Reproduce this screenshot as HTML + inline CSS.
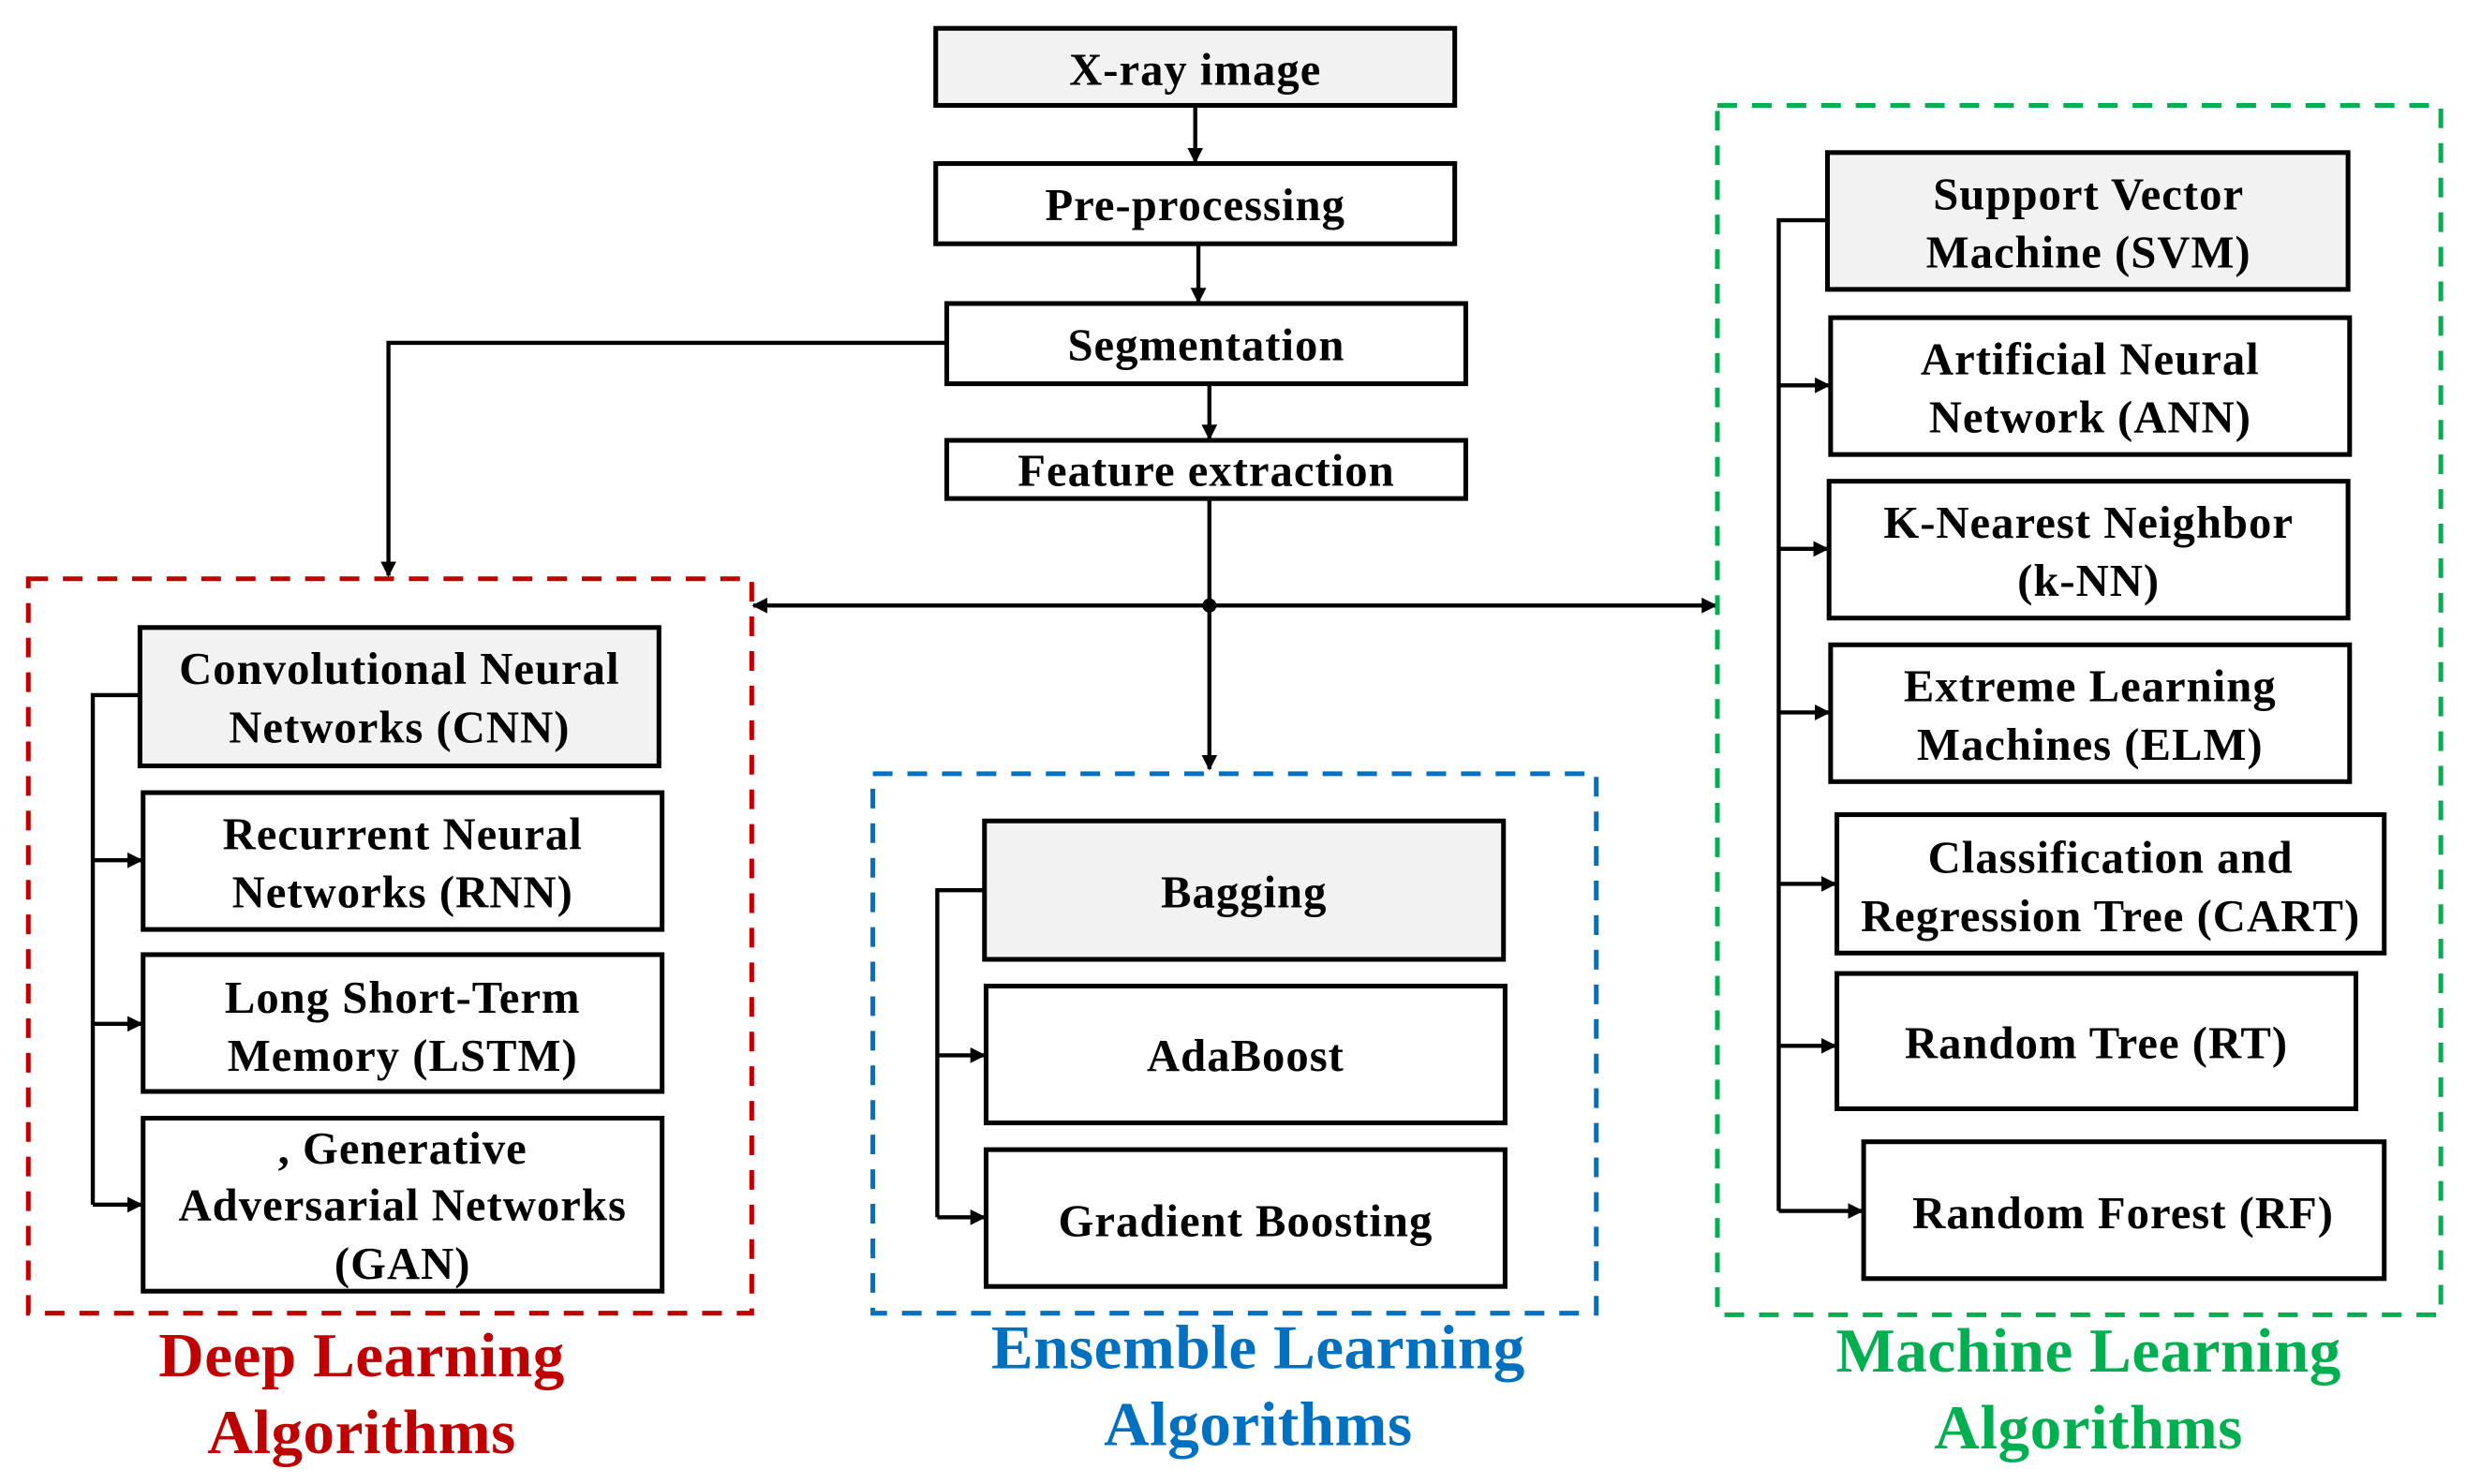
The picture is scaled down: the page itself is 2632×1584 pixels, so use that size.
<!DOCTYPE html>
<html><head><meta charset="utf-8"><style>
html,body{margin:0;padding:0;background:#fff;}
svg{display:block;}
text{font-family:"Liberation Serif",serif;font-weight:bold;text-anchor:middle;}
.b{fill:#fff;stroke:#000;stroke-width:3;}
.g{fill:#f2f2f2;stroke:#000;stroke-width:3;}
.l{stroke:#000;stroke-width:2.6;fill:none;}
.t{font-size:29px;fill:#000;letter-spacing:0.6px;}
.h{font-size:40px;letter-spacing:0.3px;}
</style></head><body>
<svg width="2632" height="1584" viewBox="0 0 1568 943.6" preserveAspectRatio="none">
<defs><marker id="a" markerWidth="10" markerHeight="10" refX="9" refY="5" orient="auto" markerUnits="userSpaceOnUse"><path d="M0,0 L10,5 L0,10 z" fill="#000"/></marker></defs>
<rect class="g" x="595" y="18" width="330" height="49"/><text class="t" x="760" y="54">X-ray image</text>
<rect class="b" x="595" y="104" width="330" height="51"/><text class="t" x="760" y="140">Pre-processing</text>
<rect class="b" x="602" y="193" width="330" height="51"/><text class="t" x="767" y="229">Segmentation</text>
<rect class="b" x="602" y="280" width="330" height="37"/><text class="t" x="767" y="309">Feature extraction</text>
<line class="l" x1="760" y1="67" x2="760" y2="103" marker-end="url(#a)"/>
<line class="l" x1="762" y1="155" x2="762" y2="192" marker-end="url(#a)"/>
<line class="l" x1="769" y1="244" x2="769" y2="279" marker-end="url(#a)"/>
<line class="l" x1="769" y1="317" x2="769" y2="385"/>
<line class="l" x1="769" y1="385" x2="769" y2="489" marker-end="url(#a)"/>
<circle cx="769" cy="385" r="4.5" fill="#000"/>
<line class="l" x1="769" y1="385" x2="1091" y2="385" marker-end="url(#a)"/>
<line class="l" x1="769" y1="385" x2="479" y2="385" marker-end="url(#a)"/>
<polyline class="l" points="602,218 247,218 247,366" marker-end="url(#a)"/>
<rect x="18" y="368" width="460" height="467" fill="none" stroke="#c00000" stroke-width="3" stroke-dasharray="12.5,9.5"/>
<rect x="555" y="492" width="460" height="343" fill="none" stroke="#0070c0" stroke-width="3" stroke-dasharray="12.5,9.5"/>
<rect x="1092" y="67" width="460" height="769" fill="none" stroke="#00b050" stroke-width="3" stroke-dasharray="12.5,9.5"/>
<rect class="g" x="89" y="399" width="330" height="88"/><text class="t" x="254" y="435">Convolutional Neural</text><text class="t" x="254" y="472">Networks (CNN)</text>
<rect class="b" x="91" y="504" width="330" height="87"/><text class="t" x="256" y="540">Recurrent Neural</text><text class="t" x="256" y="577">Networks (RNN)</text>
<rect class="b" x="91" y="607" width="330" height="87"/><text class="t" x="256" y="644">Long Short-Term</text><text class="t" x="256" y="681">Memory (LSTM)</text>
<rect class="b" x="91" y="711" width="330" height="110"/><text class="t" x="256" y="740">, Generative</text><text class="t" x="256" y="776">Adversarial Networks</text><text class="t" x="256" y="813">(GAN)</text>
<polyline class="l" points="89,442 59,442 59,766"/>
<line class="l" x1="59" y1="547" x2="90" y2="547" marker-end="url(#a)"/>
<line class="l" x1="59" y1="651" x2="90" y2="651" marker-end="url(#a)"/>
<line class="l" x1="59" y1="766" x2="90" y2="766" marker-end="url(#a)"/>
<rect class="g" x="626" y="522" width="330" height="88"/><text class="t" x="791" y="577">Bagging</text>
<rect class="b" x="627" y="627" width="330" height="87"/><text class="t" x="792" y="681">AdaBoost</text>
<rect class="b" x="627" y="731" width="330" height="87"/><text class="t" x="792" y="786">Gradient Boosting</text>
<polyline class="l" points="626,566 596,566 596,774"/>
<line class="l" x1="596" y1="671" x2="626" y2="671" marker-end="url(#a)"/>
<line class="l" x1="596" y1="774" x2="626" y2="774" marker-end="url(#a)"/>
<rect class="g" x="1162" y="97" width="331" height="87"/><text class="t" x="1328" y="133">Support Vector</text><text class="t" x="1328" y="170">Machine (SVM)</text>
<rect class="b" x="1164" y="202" width="330" height="87"/><text class="t" x="1329" y="238">Artificial Neural</text><text class="t" x="1329" y="275">Network (ANN)</text>
<rect class="b" x="1163" y="306" width="330" height="87"/><text class="t" x="1328" y="342">K-Nearest Neighbor</text><text class="t" x="1328" y="379">(k-NN)</text>
<rect class="b" x="1164" y="410" width="330" height="87"/><text class="t" x="1329" y="446">Extreme Learning</text><text class="t" x="1329" y="483">Machines (ELM)</text>
<rect class="b" x="1168" y="518" width="348" height="88"/><text class="t" x="1342" y="555">Classification and</text><text class="t" x="1342" y="592">Regression Tree (CART)</text>
<rect class="b" x="1168" y="619" width="330" height="86"/><text class="t" x="1333" y="673">Random Tree (RT)</text>
<rect class="b" x="1185" y="726" width="331" height="87"/><text class="t" x="1350" y="781">Random Forest (RF)</text>
<polyline class="l" points="1162,140 1131,140 1131,770"/>
<line class="l" x1="1131" y1="245" x2="1163" y2="245" marker-end="url(#a)"/>
<line class="l" x1="1131" y1="349" x2="1162" y2="349" marker-end="url(#a)"/>
<line class="l" x1="1131" y1="453" x2="1163" y2="453" marker-end="url(#a)"/>
<line class="l" x1="1131" y1="562" x2="1167" y2="562" marker-end="url(#a)"/>
<line class="l" x1="1131" y1="665" x2="1167" y2="665" marker-end="url(#a)"/>
<line class="l" x1="1131" y1="770" x2="1184" y2="770" marker-end="url(#a)"/>
<text class="h" x="230" y="875" fill="#c00000">Deep Learning</text>
<text class="h" x="230" y="924" fill="#c00000">Algorithms</text>
<text class="h" x="800" y="870" fill="#0070c0">Ensemble Learning</text>
<text class="h" x="800" y="919" fill="#0070c0">Algorithms</text>
<text class="h" x="1328" y="872" fill="#00b050">Machine Learning</text>
<text class="h" x="1328" y="921" fill="#00b050">Algorithms</text>
</svg>
</body></html>
